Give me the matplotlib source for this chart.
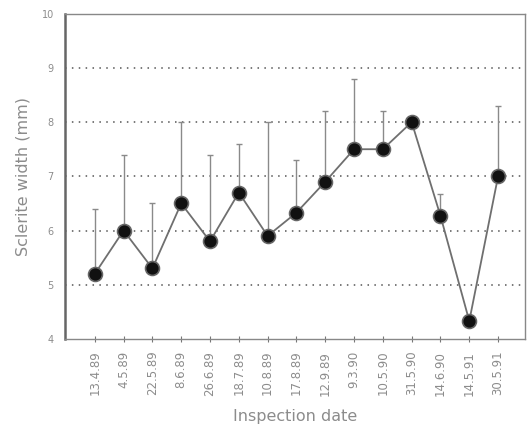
import matplotlib
matplotlib.use('Agg')
import matplotlib.pyplot as plt

dates = ['13.4.89', '4.5.89', '22.5.89', '8.6.89', '26.6.89', '18.7.89', '10.8.89',
         '17.8.89', '12.9.89', '9.3.90', '10.5.90', '31.5.90', '14.6.90', '14.5.91', '30.5.91']
width = [5.2, 6.0, 5.3, 6.5, 5.8, 6.7, 5.9, 6.33, 6.9, 7.5, 7.5, 8.0, 6.27, 4.33, 7.0]
upper = [6.4, 7.4, 6.5, 8.0, 7.4, 7.6, 8.0, 7.3, 8.2, 8.8, 8.2, 8.0, 6.67, 4.33, 8.3]

fig = plt.figure(figsize=(5.27, 4.29), dpi=100)
ax = fig.add_axes([0.123, 0.21, 0.873, 0.758])

x = list(range(len(dates)))
err = [u - w for u, w in zip(upper, width)]

# upper-only error bars
ax.errorbar(x, width, yerr=[[0] * len(err), err], fmt='none', ecolor='#8a8a8a',
            elinewidth=1.0, capsize=2.5, capthick=1.0, zorder=2)
ax.plot(x, width, color='#6f6f6f', lw=1.3, zorder=3)
ax.plot(x, width, 'o', ms=10, mfc='#111111', mec='#666666', mew=1.2, zorder=4)

for yv in [5, 6, 7, 8, 9]:
    ax.axhline(yv, color='#555555', lw=1.1, ls=(0, (1, 3.5)), zorder=1)

ax.set_ylim(4, 10)
ax.set_xlim(-1.04, 14.93)
ax.set_yticks([4, 5, 6, 7, 8, 9, 10])
ax.set_xticks(x)
ax.set_xticklabels(dates, rotation=90, fontsize=8.5, color='#8c8c8c')
ax.tick_params(axis='y', labelsize=7, labelcolor='#8c8c8c', length=0, pad=8)
ax.tick_params(axis='x', direction='inout', length=5, color='#777777', pad=6)

for side in ['top', 'right', 'bottom']:
    ax.spines[side].set_color('#888888')
    ax.spines[side].set_linewidth(1.0)
ax.spines['left'].set_color('#666666')
ax.spines['left'].set_linewidth(1.8)

ax.set_ylabel('Sclerite width (mm)', fontsize=11.5, color='#8c8c8c', labelpad=8)
ax.set_xlabel('Inspection date', fontsize=11.5, color='#8c8c8c', labelpad=10)

fig.savefig('out.png', dpi=100)
